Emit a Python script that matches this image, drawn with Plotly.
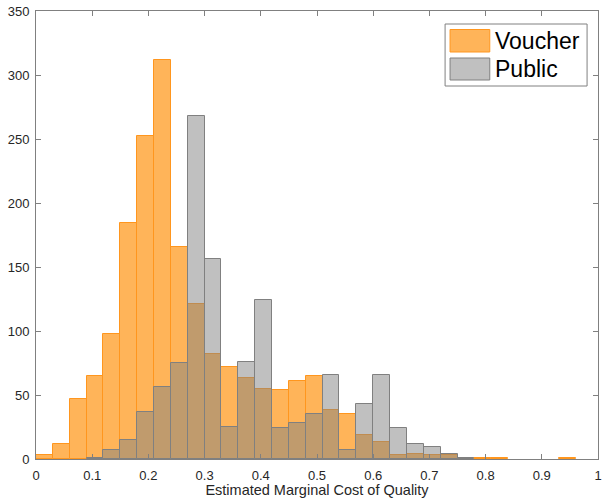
import plotly.graph_objects as go

# Histogram bins: width 0.03 starting at 0
bin_width = 0.03
bin_starts = [round(i * bin_width, 2) for i in range(32)]

voucher_counts = [3, 12, 47, 65, 98, 184, 252, 312, 166, 121, 82, 72, 63, 55, 54, 61,
                  65, 38, 35, 19, 13, 3, 4, 3, 3, 0, 1, 1, 0, 0, 0, 1]
public_counts = [0, 0, 0, 1, 7, 15, 37, 56, 75, 268, 156, 25, 76, 124, 24, 28,
                 35, 66, 7, 43, 66, 24, 12, 9, 4, 1, 0, 0, 0, 0, 0, 0]

x_ticks = [round(0.1 * i, 1) for i in range(11)]
x_tick_text = ["0", "0.1", "0.2", "0.3", "0.4", "0.5", "0.6", "0.7", "0.8", "0.9", "1"]
y_ticks = list(range(0, 351, 50))

centers = [s + bin_width / 2 for s in bin_starts]


def nonzero(counts):
    # empty bins are left undrawn
    return [c if c else None for c in counts]


FONT = "Liberation Sans, Arial, Helvetica, sans-serif"
ORANGE_FILL = "rgba(255,140,0,0.65)"
ORANGE_EDGE = "rgb(255,150,30)"
GRAY_FILL = "rgba(130,130,130,0.5)"
GRAY_EDGE = "rgb(128,128,128)"

fig = go.Figure()
fig.add_trace(go.Bar(
    x=centers, y=nonzero(voucher_counts), width=bin_width, name="Voucher",
    marker=dict(color=ORANGE_FILL, line=dict(color=ORANGE_EDGE, width=1)),
    showlegend=False,
))
fig.add_trace(go.Bar(
    x=centers, y=nonzero(public_counts), width=bin_width, name="Public",
    marker=dict(color=GRAY_FILL, line=dict(color=GRAY_EDGE, width=1)),
    showlegend=False,
))

axis_common = dict(
    showline=True, linecolor="#808080", linewidth=1, mirror="ticks",
    ticks="inside", ticklen=5, tickcolor="#808080", tickwidth=1,
    showgrid=False, zeroline=False, ticklabeloverflow="allow",
    tickfont=dict(family=FONT, size=13, color="#262626"),
)

fig.update_layout(
    width=604, height=498,
    margin=dict(l=36, r=2, t=11, b=39),
    paper_bgcolor="white", plot_bgcolor="white",
    barmode="overlay", bargap=0,
    xaxis=dict(range=[0, 1], tickvals=x_ticks, ticktext=x_tick_text,
               title=dict(text="Estimated Marginal Cost of Quality",
                          font=dict(family=FONT, size=14.5, color="#262626"),
                          standoff=1),
               ticklabelstandoff=4,
               **axis_common),
    yaxis=dict(range=[0, 350], tickvals=y_ticks, ticklabelstandoff=3, **axis_common),
)

# Legend box drawn with paper-coordinate shapes
def px_x(p):
    return (p - 36) / 566

def px_y(p):
    return 1 - (p - 11) / 448

fig.add_shape(type="rect", xref="paper", yref="paper",
              x0=px_x(448), x1=px_x(591), y0=px_y(86), y1=px_y(24),
              line=dict(color="#808080", width=1), fillcolor="white", layer="above")
fig.add_shape(type="rect", xref="paper", yref="paper",
              x0=px_x(453), x1=px_x(493), y0=px_y(52), y1=px_y(29.5),
              line=dict(color=ORANGE_EDGE, width=1), fillcolor=ORANGE_FILL, layer="above")
fig.add_shape(type="rect", xref="paper", yref="paper",
              x0=px_x(453), x1=px_x(493), y0=px_y(80), y1=px_y(58),
              line=dict(color=GRAY_EDGE, width=1), fillcolor=GRAY_FILL, layer="above")
for label, yc in [("Voucher", 41), ("Public", 69)]:
    fig.add_annotation(xref="paper", yref="paper", x=px_x(496), y=px_y(yc),
                       text=label, showarrow=False, xanchor="left", yanchor="middle",
                       font=dict(family=FONT, size=23, color="black"))

fig.write_html("out.html")
